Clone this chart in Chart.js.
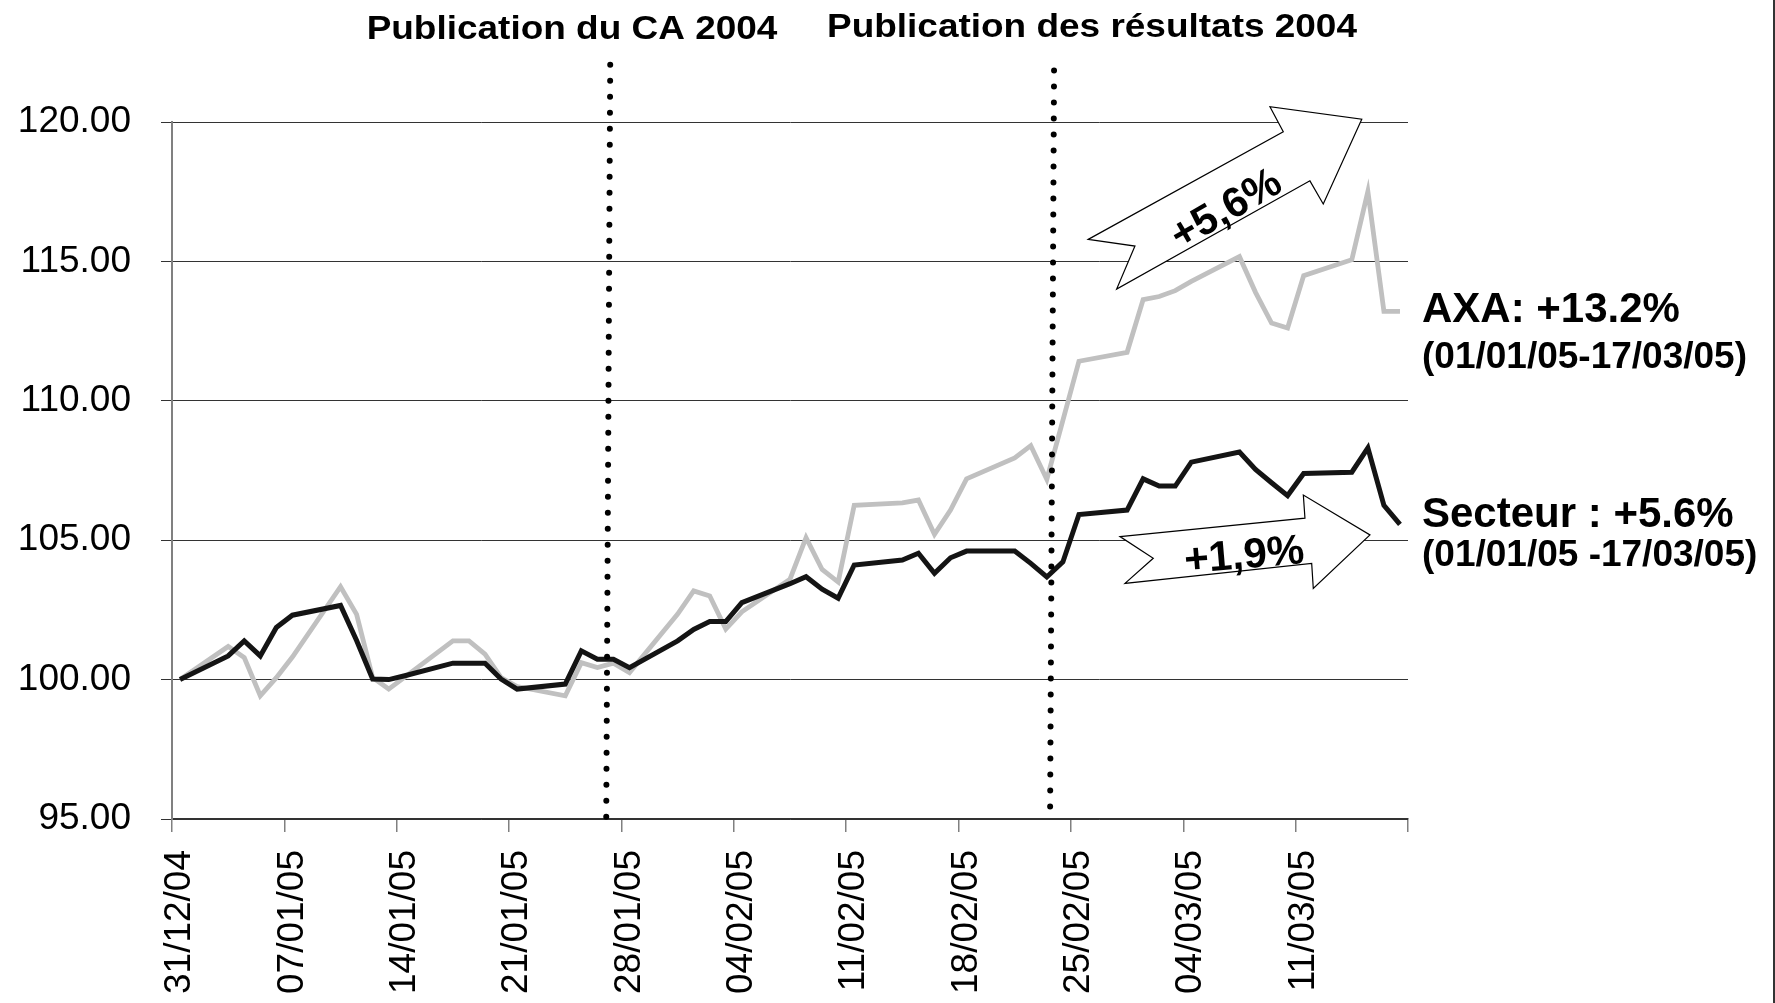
<!DOCTYPE html>
<html>
<head>
<meta charset="utf-8">
<script src="https://cdn.jsdelivr.net/npm/chart.js@4/dist/chart.umd.min.js"></script>
<style>
  html, body { margin: 0; padding: 0; background: #fff; overflow: hidden; }
  #wrap { width: 1775px; height: 1003px; position: relative; }
</style>
</head>
<body>
<div id="wrap"><canvas id="chart"></canvas></div>
<script>
// trading days, counted in days after 31/12/04
const tradingDay = [0, 3, 4, 5, 6, 7, 10, 11, 12, 13, 14, 17, 18, 19, 20, 21, 24, 25, 26, 27, 28,
  31, 32, 33, 34, 35, 38, 39, 40, 41, 42, 45, 46, 47, 48, 49, 52, 53, 54, 55, 56,
  59, 60, 61, 62, 63, 66, 67, 68, 69, 70, 73, 74, 75, 76];

// base 100 on 31/12/04
const axaValues = [100.00, 101.19, 100.79, 99.42, 100.07, 100.81, 103.33, 102.34, 100.07, 99.66, 100.09,
  101.39, 101.39, 100.91, 100.07, 99.75, 99.42, 100.61, 100.43, 100.59, 100.25,
  102.35, 103.18, 103.00, 101.81, 102.43, 103.60, 105.09, 103.95, 103.50, 106.25,
  106.34, 106.44, 105.21, 106.08, 107.20, 107.95, 108.39, 107.18, 109.30, 111.42,
  111.74, 113.63, 113.74, 113.95, 114.28, 115.17, 113.89, 112.79, 112.61, 114.49,
  115.06, 117.51, 113.21, 113.21];

const secteurValues = [100.00, 100.85, 101.39, 100.85, 101.87, 102.31, 102.66, 101.40, 100.02, 100.00, 100.14,
  100.59, 100.59, 100.59, 100.02, 99.66, 99.84, 101.03, 100.73, 100.73, 100.43,
  101.39, 101.80, 102.08, 102.08, 102.76, 103.44, 103.69, 103.24, 102.92, 104.11,
  104.29, 104.53, 103.81, 104.37, 104.61, 104.61, 104.17, 103.68, 104.22, 105.92,
  106.08, 107.20, 106.94, 106.94, 107.80, 108.16, 107.54, 107.06, 106.60, 107.39,
  107.44, 108.31, 106.25, 105.57];

const tickLabels = ['31/12/04', '07/01/05', '14/01/05', '21/01/05', '28/01/05', '04/02/05',
  '11/02/05', '18/02/05', '25/02/05', '04/03/05', '11/03/05', ''];

const FONT = "'Liberation Sans', Arial, sans-serif";

// each point sits in the middle of its day
const toPoints = vals => vals.map((v, i) => ({ x: tradingDay[i] + 0.5, y: v }));

// dotted event markers (axis units) with their captions
const events = [
  { xTop: 27.3, xBottom: 27.05, yTop: 122.05, text: 'Publication du CA 2004', cx: 572, base: 39 },
  { xTop: 54.95, xBottom: 54.7, yTop: 121.85, text: 'Publication des résultats 2004', cx: 1092, base: 37 }
];

// block arrows, outline in axis units
const arrows = [
  { text: '+5,6%', tx: 65.7, ty: 116.84, angle: -30,
    pts: [[57.08, 115.79], [69.23, 119.65], [68.40, 120.55], [74.12, 120.10], [71.72, 117.06],
          [70.89, 117.89], [58.85, 114.01], [59.99, 115.55]] },
  { text: '+1,9%', tx: 66.8, ty: 104.41, angle: -5,
    pts: [[59.06, 105.13], [70.58, 105.79], [70.48, 106.62], [74.63, 105.19], [71.10, 103.27],
          [71.00, 104.17], [59.37, 103.45], [61.13, 104.35]] }
];

const sideNotes = [
  { text: 'AXA: +13.2%', size: 42, y: 322 },
  { text: '(01/01/05-17/03/05)', size: 37, y: 368 },
  { text: 'Secteur : +5.6%', size: 42, y: 527 },
  { text: '(01/01/05 -17/03/05)', size: 37, y: 566 }
];

const annotations = {
  id: 'annotations',
  afterDatasetsDraw(chart) {
    const { ctx, scales: { x, y } } = chart;
    ctx.save();

    // dotted lines
    ctx.strokeStyle = '#000';
    ctx.lineWidth = 6;
    ctx.lineCap = 'round';
    ctx.setLineDash([0, 16]);
    events.forEach(e => {
      ctx.beginPath();
      ctx.moveTo(x.getPixelForValue(e.xTop), y.getPixelForValue(e.yTop));
      ctx.lineTo(x.getPixelForValue(e.xBottom), y.getPixelForValue(94.9));
      ctx.stroke();
    });
    ctx.setLineDash([]);

    // captions, slightly widened like the original
    ctx.fillStyle = '#000';
    ctx.font = 'bold 33px ' + FONT;
    ctx.textAlign = 'center';
    ctx.textBaseline = 'alphabetic';
    events.forEach(e => {
      ctx.save();
      ctx.translate(e.cx, e.base);
      ctx.scale(1.12, 1);
      ctx.fillText(e.text, 0, 0);
      ctx.restore();
    });

    // arrows
    arrows.forEach(a => {
      ctx.beginPath();
      a.pts.forEach((p, i) => {
        const px = x.getPixelForValue(p[0]), py = y.getPixelForValue(p[1]);
        if (i === 0) ctx.moveTo(px, py); else ctx.lineTo(px, py);
      });
      ctx.closePath();
      ctx.fillStyle = '#fff';
      ctx.fill();
      ctx.strokeStyle = '#000';
      ctx.lineWidth = 1.2;
      ctx.lineJoin = 'miter';
      ctx.stroke();

      ctx.save();
      ctx.translate(x.getPixelForValue(a.tx), y.getPixelForValue(a.ty));
      ctx.rotate(a.angle * Math.PI / 180);
      ctx.fillStyle = '#000';
      ctx.font = 'bold 42px ' + FONT;
      ctx.textAlign = 'center';
      ctx.textBaseline = 'middle';
      ctx.fillText(a.text, 0, 0);
      ctx.restore();
    });

    // notes on the right
    ctx.textAlign = 'left';
    ctx.textBaseline = 'alphabetic';
    ctx.fillStyle = '#000';
    sideNotes.forEach(n => {
      ctx.font = 'bold ' + n.size + 'px ' + FONT;
      ctx.fillText(n.text, 1422, n.y);
    });

    // frame edge on the right
    ctx.fillStyle = '#333';
    ctx.fillRect(chart.width - 2, 0, 2, chart.height);
    ctx.restore();
  }
};

new Chart(document.getElementById('chart'), {
  type: 'line',
  data: {
    datasets: [
      { label: 'Secteur', data: toPoints(secteurValues), borderColor: '#141414', borderWidth: 5,
        pointRadius: 0, tension: 0 },
      { label: 'AXA', data: toPoints(axaValues), borderColor: '#c0c0c0', borderWidth: 4.8,
        pointRadius: 0, tension: 0 }
    ]
  },
  options: {
    responsive: true,
    maintainAspectRatio: false,
    devicePixelRatio: 1,
    animation: false,
    layout: { padding: { top: 122, right: 367, left: 0, bottom: 0 } },
    plugins: { legend: { display: false }, tooltip: { enabled: false } },
    scales: {
      x: {
        type: 'linear',
        min: 0,
        max: 77,
        ticks: {
          stepSize: 7,
          autoSkip: false,
          minRotation: 90,
          maxRotation: 90,
          padding: 18,
          labelOffset: 8,
          color: '#000',
          font: { family: FONT, size: 37 },
          callback: (v, i) => tickLabels[i]
        },
        grid: { drawOnChartArea: false, drawTicks: true, tickLength: 13, color: '#808080', lineWidth: 1.5 },
        border: { color: '#333', width: 1.5 },
        afterFit: s => { s.height = 184; }
      },
      y: {
        min: 95,
        max: 120,
        ticks: {
          stepSize: 5,
          padding: 30,
          color: '#000',
          font: { family: FONT, size: 37 },
          callback: v => v.toFixed(2)
        },
        grid: { color: '#333', lineWidth: 1, tickLength: 11 },
        border: { color: '#808080', width: 2 },
        afterFit: s => { s.width = 172; }
      }
    }
  },
  plugins: [annotations]
});
</script>
</body>
</html>
